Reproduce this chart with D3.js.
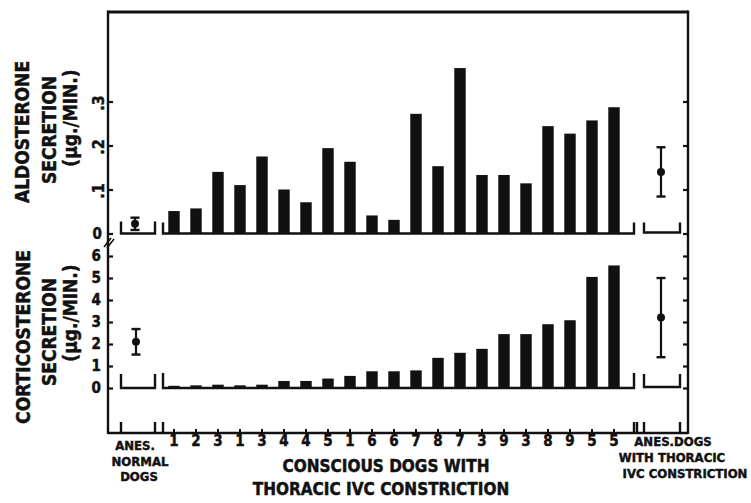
<!DOCTYPE html>
<html>
<head>
<meta charset="utf-8">
<script src="https://cdn.jsdelivr.net/npm/d3@7"></script>
<style>
  body { margin: 0; background: #fff; }
  svg text { font-family: 'Liberation Sans Narrow', 'DejaVu Sans Condensed', 'Arial Narrow', sans-serif; font-weight: bold; fill: #111; stroke: #111; stroke-width: 0.45; }
  .ln { stroke: #111; stroke-width: 2.4; fill: none; }
</style>
</head>
<body>
<svg id="chart" width="751" height="503"></svg>
<script>
// ---- data ----
const barLabels = ['1','2','3','1','3','4','4','5','1','6','6','7','8','7','3','9','3','8','9','5','5'];
const aldosterone = [0.051,0.057,0.14,0.11,0.175,0.10,0.071,0.194,0.163,0.041,0.031,0.272,0.153,0.376,0.133,0.133,0.114,0.244,0.227,0.257,0.287];
const corticosterone = [0.1,0.12,0.15,0.12,0.15,0.32,0.32,0.43,0.55,0.76,0.76,0.8,1.37,1.6,1.78,2.45,2.45,2.9,3.08,5.05,5.57];
// [aldosterone, corticosterone]
const anesNormalMean = [0.022, 2.1];
const anesNormalErr = [0.014, 0.58];
const anesIvcMean = [0.14, 3.2];
const anesIvcErr = [0.056, 1.8];
const aldoTicks = [0.1, 0.2, 0.3];
const aldoTickLabels = ['.1', '.2', '.3'];
const cortTicks = [0, 1, 2, 3, 4, 5, 6];

const svg = d3.select('#chart');
svg.append('rect').attr('width', 751).attr('height', 503).attr('fill', '#fff');

const axL = 108, axR = 688, frameTop = 12, frameBottom = 433;
const x = d3.scaleBand().domain(d3.range(barLabels.length)).range([163, 625]).paddingInner(0.48).paddingOuter(0.24);
const yTop = d3.scaleLinear().domain([0, 0.1]).range([233.5, 189.5]);
const yBot = d3.scaleLinear().domain([0, 6]).range([388, 256]);
const xAnes = 137, xIvc = 661;

function line(x1, y1, x2, y2, w){
  svg.append('line').attr('class','ln').attr('x1',x1).attr('y1',y1).attr('x2',x2).attr('y2',y2)
    .style('stroke-width', w || null);
}
function bracket(x0, x1, y, h){
  svg.append('path').attr('class','ln').attr('d', `M${x0},${y-h}V${y}H${x1}V${y-h}`);
}

// frame
line(axL, frameTop, axR, frameTop, 3);
line(axL, frameTop - 1.5, axL, frameBottom + 1);
line(axR, frameTop - 1.5, axR, frameBottom + 1);
line(axL, frameBottom, axR, frameBottom);
// axis break
line(104, 247, 111, 238, 1.6);
line(107, 248, 114, 239, 1.6);

// left axes
const topAxis = svg.append('g').attr('transform', `translate(${axL},0)`)
  .call(d3.axisLeft(yTop).tickValues([0].concat(aldoTicks)).tickSize(-5).tickPadding(5).tickFormat(''));
const botAxis = svg.append('g').attr('transform', `translate(${axL},0)`)
  .call(d3.axisLeft(yBot).tickValues(cortTicks).tickSize(-5).tickPadding(7).tickFormat(d3.format('d')));
[topAxis, botAxis].forEach(a => { a.select('.domain').remove(); a.selectAll('line').attr('stroke','#111').attr('stroke-width',2.2); });
botAxis.selectAll('text').attr('font-size', 15).attr('fill', '#111').style('font-family', null);
topAxis.selectAll('.tick').filter(d => d > 0).append('text')
  .attr('transform', 'translate(-4,1) rotate(-90)').attr('text-anchor','middle').attr('font-size', 16)
  .text((d, i) => aldoTickLabels[i]);
topAxis.selectAll('.tick').filter(d => d === 0).append('text')
  .attr('x', -6).attr('dy', '0.35em').attr('text-anchor','end').attr('font-size', 15).text('0');

// right axes (ticks only)
[[yTop, [0].concat(aldoTicks)], [yBot, cortTicks]].forEach(([s, t]) => {
  const a = svg.append('g').attr('transform', `translate(${axR},0)`)
    .call(d3.axisRight(s).tickValues(t).tickSize(-5).tickFormat(''));
  a.select('.domain').remove();
  a.selectAll('line').attr('stroke','#111').attr('stroke-width',2.2);
});

// group brackets on the zero lines
bracket(121, 155, yTop(0), 12);
bracket(163, 634, yTop(0), 11);
bracket(644, 680, yTop(0) - 1, 10);
bracket(121, 155, yBot(0), 14);
bracket(163, 634, yBot(0), 15);
bracket(644, 680, yBot(0) - 1, 13);

// separators and bar ticks on lower baseline
[121, 155, 163, 634, 637, 644, 680].forEach(v => line(v, frameBottom, v, frameBottom - 11));
svg.append('g').selectAll('line').data(barLabels).join('line').attr('class','ln')
  .attr('x1', (d, i) => x(i) + x.bandwidth()/2).attr('x2', (d, i) => x(i) + x.bandwidth()/2)
  .attr('y1', frameBottom).attr('y2', frameBottom - 4).style('stroke-width', 2);

// bars
svg.append('g').selectAll('rect').data(aldosterone).join('rect')
  .attr('x', (d, i) => x(i)).attr('width', x.bandwidth())
  .attr('y', d => yTop(d)).attr('height', d => yTop(0) - yTop(d)).attr('fill', '#111');
svg.append('g').selectAll('rect').data(corticosterone).join('rect')
  .attr('x', (d, i) => x(i)).attr('width', x.bandwidth())
  .attr('y', d => yBot(d)).attr('height', d => yBot(0) - yBot(d)).attr('fill', '#111');

// mean +/- error points
function errPoint(cx, s, m, e){
  line(cx, s(m + e), cx, s(m - e), 2.2);
  line(cx - 4.5, s(m + e), cx + 4.5, s(m + e), 2.4);
  line(cx - 4.5, s(m - e), cx + 4.5, s(m - e), 2.4);
  svg.append('circle').attr('cx', cx).attr('cy', s(m)).attr('r', 4).attr('fill', '#111');
}
errPoint(xAnes - 2, yTop, anesNormalMean[0], anesNormalErr[0]);
errPoint(xAnes - 1, yBot, anesNormalMean[1], anesNormalErr[1]);
errPoint(xIvc, yTop, anesIvcMean[0], anesIvcErr[0]);
errPoint(xIvc, yBot, anesIvcMean[1], anesIvcErr[1]);

// bar number labels
svg.append('g').selectAll('text').data(barLabels).join('text')
  .attr('x', (d, i) => x(i) + x.bandwidth()/2).attr('y', 446)
  .attr('text-anchor', 'middle').attr('font-size', 15).text(d => d);

// y titles
function vtext(lines, fs){
  lines.forEach(t => {
    svg.append('text').attr('transform', `translate(${t[1]},${t[2]}) rotate(-90)`)
      .attr('text-anchor','middle').attr('font-size', fs).text(t[0]);
  });
}
vtext([['ALDOSTERONE', 29, 132], ['SECRETION', 56, 130], ['(\u03bcg./MIN.)', 77, 118]], 19);
vtext([['CORTICOSTERONE', 30, 337], ['SECRETION', 56, 332], ['(\u03bcg./MIN.)', 77, 313]], 19);

// group titles
function htext(t, cx, y, fs){
  svg.append('text').attr('x', cx).attr('y', y).attr('text-anchor','middle').attr('font-size', fs).text(t);
}
htext('ANES.', 135, 450, 13);
htext('NORMAL', 140, 466, 13);
htext('DOGS', 139, 481, 13);
htext('CONSCIOUS DOGS WITH', 386, 472, 17);
htext('THORACIC IVC CONSTRICTION', 381, 495, 17);
htext('ANES.DOGS', 673, 446, 13);
htext('WITH THORACIC', 672, 462, 13);
htext('IVC CONSTRICTION', 685, 478, 13);
</script>
</body>
</html>
